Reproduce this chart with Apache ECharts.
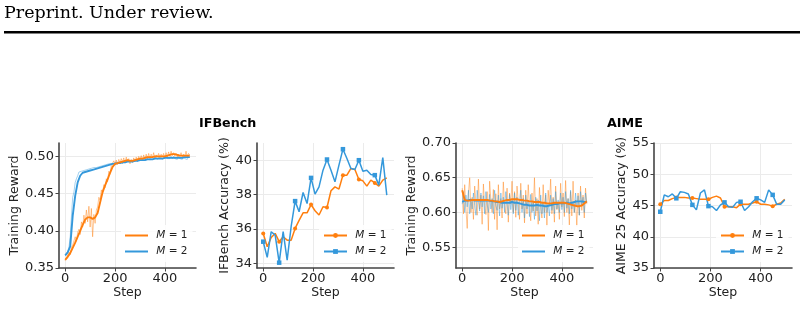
<!DOCTYPE html>
<html>
<head>
<meta charset="utf-8">
<script src="https://cdn.jsdelivr.net/npm/echarts@6.0.0/dist/echarts.min.js"></script>
<style>
  html, body { margin: 0; padding: 0; background: #fff; }
  #chart { width: 804px; height: 309px; }
</style>
</head>
<body>
<div id="chart"></div>
<script>
// ---- data ----
const stepTicks = [0, 200, 400]
const ifRewardTicks = [0.35, 0.40, 0.45, 0.50]
const ifAccTicks = [34, 36, 38, 40]
const aimeRewardTicks = [0.55, 0.60, 0.65, 0.70]
const aimeAccTicks = [35, 40, 45, 50, 55]

// training logs every 5 steps
const rawSteps = [
  0, 5, 10, 15, 20, 25, 30, 35, 40, 45,
  50, 55, 60, 65, 70, 75, 80, 85, 90, 95,
  100, 105, 110, 115, 120, 125, 130, 135, 140, 145,
  150, 155, 160, 165, 170, 175, 180, 185, 190, 195,
  200, 205, 210, 215, 220, 225, 230, 235, 240, 245,
  250, 255, 260, 265, 270, 275, 280, 285, 290, 295,
  300, 305, 310, 315, 320, 325, 330, 335, 340, 345,
  350, 355, 360, 365, 370, 375, 380, 385, 390, 395,
  400, 405, 410, 415, 420, 425, 430, 435, 440, 445,
  450, 455, 460, 465, 470, 475, 480, 485, 490, 495,
  500
]
// smoothed curves every 10 steps
const smoothSteps = [
  0, 10, 20, 30, 40, 50, 60, 70, 80, 90,
  100, 110, 120, 130, 140, 150, 160, 170, 180, 190,
  200, 210, 220, 230, 240, 250, 260, 270, 280, 290,
  300, 310, 320, 330, 340, 350, 360, 370, 380, 390,
  400, 410, 420, 430, 440, 450, 460, 470, 480, 490,
  500
]
// evaluations every 16 steps
const evalSteps = [
  0, 16, 32, 48, 64, 80, 96, 112,
  128, 144, 160, 176, 192, 208, 224, 240,
  256, 272, 288, 304, 320, 336, 352, 368,
  384, 400, 416, 432, 448, 464, 480, 496
]

// IFBench training reward
const ifRawM1 = [
  0.360, 0.364, 0.366, 0.371, 0.368, 0.378, 0.381, 0.379, 0.392, 0.386,
  0.398, 0.402, 0.395, 0.412, 0.405, 0.421, 0.410, 0.428, 0.412, 0.433,
  0.405, 0.430, 0.392, 0.422, 0.410, 0.428, 0.432, 0.445, 0.441, 0.455,
  0.450, 0.462, 0.458, 0.470, 0.466, 0.480, 0.476, 0.488, 0.486, 0.494,
  0.490, 0.495, 0.489, 0.496, 0.491, 0.497, 0.492, 0.498, 0.491, 0.499,
  0.493, 0.497, 0.490, 0.496, 0.492, 0.498, 0.493, 0.499, 0.494, 0.500,
  0.495, 0.501, 0.495, 0.502, 0.496, 0.503, 0.497, 0.504, 0.497, 0.503,
  0.498, 0.505, 0.497, 0.502, 0.499, 0.504, 0.498, 0.503, 0.499, 0.504,
  0.498, 0.505, 0.499, 0.506, 0.500, 0.507, 0.501, 0.505, 0.500, 0.504,
  0.499, 0.503, 0.500, 0.505, 0.499, 0.503, 0.500, 0.507, 0.499, 0.504,
  0.502
]
const ifRawM2 = [
  0.366, 0.369, 0.372, 0.378, 0.392, 0.420, 0.445, 0.452, 0.465, 0.470,
  0.474, 0.479, 0.477, 0.480, 0.478, 0.481, 0.479, 0.482, 0.480, 0.483,
  0.481, 0.484, 0.482, 0.485, 0.483, 0.485, 0.484, 0.486, 0.484, 0.487,
  0.485, 0.488, 0.486, 0.489, 0.487, 0.490, 0.488, 0.490, 0.489, 0.491,
  0.489, 0.492, 0.490, 0.492, 0.491, 0.493, 0.490, 0.494, 0.491, 0.494,
  0.492, 0.494, 0.492, 0.495, 0.492, 0.495, 0.493, 0.496, 0.493, 0.496,
  0.494, 0.497, 0.494, 0.497, 0.495, 0.497, 0.495, 0.498, 0.495, 0.498,
  0.496, 0.498, 0.496, 0.499, 0.496, 0.499, 0.497, 0.499, 0.496, 0.499,
  0.497, 0.500, 0.497, 0.499, 0.497, 0.500, 0.497, 0.500, 0.497, 0.499,
  0.496, 0.500, 0.497, 0.499, 0.496, 0.500, 0.497, 0.499, 0.496, 0.500,
  0.498
]
const ifSmoothM1 = [
  0.361, 0.365, 0.370, 0.377, 0.384, 0.392, 0.400, 0.408, 0.415, 0.418,
  0.418, 0.416, 0.418, 0.424, 0.438, 0.452, 0.461, 0.469, 0.478, 0.486,
  0.490, 0.491, 0.492, 0.493, 0.494, 0.495, 0.494, 0.494, 0.495, 0.496,
  0.497, 0.497, 0.498, 0.499, 0.499, 0.499, 0.500, 0.500, 0.500, 0.500,
  0.500, 0.501, 0.502, 0.503, 0.503, 0.502, 0.501, 0.501, 0.501, 0.501,
  0.501
]
const ifSmoothM2 = [
  0.367, 0.371, 0.379, 0.420, 0.447, 0.465, 0.474, 0.478, 0.479, 0.480,
  0.481, 0.482, 0.483, 0.484, 0.485, 0.486, 0.487, 0.488, 0.489, 0.490,
  0.490, 0.491, 0.491, 0.492, 0.492, 0.493, 0.493, 0.493, 0.494, 0.494,
  0.495, 0.495, 0.495, 0.496, 0.496, 0.496, 0.497, 0.497, 0.497, 0.497,
  0.498, 0.498, 0.498, 0.498, 0.498, 0.498, 0.498, 0.498, 0.499, 0.499,
  0.499
]

// IFBench accuracy (%)
const ifAccM1 = [
  35.74, 34.97, 35.50, 35.74, 35.26, 35.55, 35.35, 35.35,
  36.03, 36.50, 36.94, 36.94, 37.42, 37.06, 36.81, 37.29,
  37.25, 38.22, 38.45, 38.32, 39.13, 39.13, 39.52, 39.46,
  38.88, 38.80, 38.49, 38.84, 38.68, 38.49, 38.84, 38.97
]
const ifAccM2 = [
  35.26, 34.35, 35.84, 35.64, 34.04, 35.84, 34.19, 36.13,
  37.62, 37.00, 38.12, 37.48, 38.97, 38.03, 38.45, 39.42,
  40.04, 39.42, 38.74, 39.71, 40.64, 40.10, 39.52, 39.46,
  40.00, 39.36, 39.42, 39.17, 39.13, 38.55, 40.15, 37.97
]

// AIME training reward
const aimeRawM1 = [
  0.635, 0.598, 0.640, 0.605, 0.577, 0.628, 0.650, 0.600, 0.622, 0.590,
  0.638, 0.612, 0.596, 0.648, 0.605, 0.625, 0.583, 0.641, 0.610, 0.597,
  0.630, 0.574, 0.645, 0.618, 0.600, 0.633, 0.590, 0.627, 0.575, 0.640,
  0.605, 0.620, 0.592, 0.644, 0.610, 0.598, 0.635, 0.586, 0.628, 0.612,
  0.645, 0.600, 0.630, 0.593, 0.638, 0.615, 0.590, 0.642, 0.605, 0.625,
  0.585, 0.632, 0.598, 0.640, 0.610, 0.588, 0.628, 0.602, 0.650, 0.595,
  0.620, 0.583, 0.636, 0.605, 0.592, 0.640, 0.600, 0.625, 0.580, 0.632,
  0.610, 0.648, 0.598, 0.622, 0.586, 0.638, 0.604, 0.615, 0.590, 0.642,
  0.608, 0.628, 0.594, 0.646, 0.600, 0.620, 0.582, 0.630, 0.595, 0.645,
  0.600, 0.618, 0.580, 0.628, 0.596, 0.638, 0.603, 0.625, 0.592, 0.635,
  0.612
]
const aimeRawM2 = [
  0.612, 0.630, 0.600, 0.625, 0.608, 0.632, 0.598, 0.620, 0.605, 0.628,
  0.610, 0.596, 0.632, 0.615, 0.602, 0.628, 0.608, 0.624, 0.598, 0.630,
  0.612, 0.600, 0.626, 0.605, 0.620, 0.598, 0.632, 0.610, 0.603, 0.625,
  0.595, 0.628, 0.606, 0.622, 0.600, 0.630, 0.612, 0.596, 0.626, 0.604,
  0.618, 0.598, 0.628, 0.603, 0.622, 0.596, 0.615, 0.632, 0.600, 0.620,
  0.592, 0.625, 0.605, 0.618, 0.594, 0.626, 0.600, 0.616, 0.590, 0.622,
  0.602, 0.618, 0.588, 0.625, 0.598, 0.615, 0.592, 0.628, 0.600, 0.612,
  0.595, 0.625, 0.603, 0.620, 0.598, 0.630, 0.605, 0.618, 0.600, 0.628,
  0.604, 0.622, 0.600, 0.630, 0.606, 0.620, 0.598, 0.632, 0.605, 0.615,
  0.600, 0.628, 0.608, 0.624, 0.596, 0.630, 0.610, 0.622, 0.600, 0.628,
  0.614
]
const aimeSmoothM1 = [
  0.632, 0.618, 0.617, 0.617, 0.618, 0.618, 0.618, 0.618, 0.618, 0.618,
  0.618, 0.617, 0.617, 0.616, 0.616, 0.615, 0.616, 0.617, 0.618, 0.618,
  0.619, 0.619, 0.619, 0.618, 0.618, 0.617, 0.617, 0.616, 0.616, 0.615,
  0.615, 0.615, 0.614, 0.614, 0.613, 0.613, 0.613, 0.614, 0.614, 0.614,
  0.614, 0.614, 0.613, 0.612, 0.611, 0.610, 0.609, 0.609, 0.610, 0.613,
  0.616
]
const aimeSmoothM2 = [
  0.615, 0.617, 0.617, 0.618, 0.618, 0.617, 0.617, 0.617, 0.617, 0.617,
  0.617, 0.617, 0.616, 0.616, 0.615, 0.615, 0.614, 0.614, 0.614, 0.614,
  0.615, 0.614, 0.614, 0.613, 0.612, 0.611, 0.611, 0.610, 0.610, 0.610,
  0.611, 0.610, 0.610, 0.609, 0.609, 0.610, 0.611, 0.612, 0.612, 0.613,
  0.613, 0.613, 0.614, 0.613, 0.614, 0.615, 0.616, 0.616, 0.616, 0.615,
  0.615
]

// AIME 25 accuracy (%)
const aimeAccM1 = [
  45.2, 45.8, 45.8, 46.1, 46.3, 46.3, 46.3, 46.2,
  46.2, 46.1, 46.0, 46.0, 46.0, 46.3, 46.5, 46.2,
  44.8, 44.8, 44.8, 44.65, 45.2, 45.2, 45.2, 45.4,
  45.6, 45.2, 45.2, 45.1, 44.9, 45.2, 45.4, 46.0
]
const aimeAccM2 = [
  44.0, 46.7, 46.4, 46.85, 46.15, 47.2, 47.1, 46.85,
  45.1, 44.3, 47.0, 47.5, 44.9, 44.8, 44.2, 45.1,
  45.5, 44.8, 44.7, 45.5, 45.6, 44.2, 44.8, 45.6,
  46.15, 45.9, 45.5, 47.5, 46.7, 45.2, 45.2, 45.9
]

// ---- chart ----
const ORANGE = '#ff7f0e'
const BLUE = '#3498db'
const INK = '#222'
const SPINE = '#444'
const FONT = 'DejaVu Sans'

const boxes = [
  { left: 59, top: 143, width: 137, height: 125 },
  { left: 257, top: 143, width: 137, height: 125 },
  { left: 456, top: 143, width: 137, height: 125 },
  { left: 654, top: 143, width: 138, height: 125 }
]

const pairs = (xs, ys) => ys.map((v, k) => [xs[k], v])
const marked = (xs, ys) => ys.map((v, k) => (k % 4 === 0 ? { value: [xs[k], v] } : { value: [xs[k], v], symbol: 'none' }))

const xAxisFor = (i) => ({
  type: 'value', gridIndex: i, min: -25, max: 525,
  name: 'Step', nameLocation: 'middle', nameGap: 18,
  nameTextStyle: { fontSize: 12.5, color: INK, fontFamily: FONT },
  axisLine: { onZero: false, lineStyle: { color: SPINE, width: 1.6 } },
  axisTick: { length: 3.5, customValues: stepTicks, lineStyle: { color: SPINE, width: 1 } },
  axisLabel: { customValues: stepTicks, fontSize: 13, color: INK, margin: 4 },
  splitLine: { show: true, lineStyle: { color: '#ebebeb', width: 1 } }
})

const yAxisFor = (i, name, min, max, ticks, digits, gap) => ({
  type: 'value', gridIndex: i, min, max,
  name, nameLocation: 'middle', nameGap: gap,
  nameTextStyle: { fontSize: 12.5, color: INK, fontFamily: FONT },
  axisLine: { show: true, onZero: false, lineStyle: { color: SPINE, width: 1.6 } },
  axisTick: { show: true, length: 3.5, customValues: ticks, lineStyle: { color: SPINE, width: 1 } },
  axisLabel: { customValues: ticks, fontSize: 13, color: INK, margin: 5, formatter: (v) => v.toFixed(digits) },
  splitLine: { show: true, lineStyle: { color: '#ebebeb', width: 1 } }
})

const rawLine = (i, name, data, color) => ({
  type: 'line', name, xAxisIndex: i, yAxisIndex: i, data,
  symbol: 'none', silent: true, z: 1,
  lineStyle: { color, width: 1, opacity: 0.45 }
})
const smoothLine = (i, name, data, color) => ({
  type: 'line', name, xAxisIndex: i, yAxisIndex: i, data,
  symbol: 'none', z: 3,
  itemStyle: { color },
  lineStyle: { color, width: 1.9 }
})
const evalLine = (i, name, data, color, symbol, size) => ({
  type: 'line', name, xAxisIndex: i, yAxisIndex: i, data,
  symbol, symbolSize: size, showSymbol: true, z: 3,
  itemStyle: { color },
  lineStyle: { color, width: 1.5 }
})

const legendNames = { a1: 'M', a2: 'M', b1: 'M', b2: 'M', c1: 'M', c2: 'M', d1: 'M', d2: 'M' }
const legendFor = (left, names, withMarkers) => ({
  orient: 'vertical', left, top: 225, data: names,
  itemWidth: 23, itemHeight: withMarkers ? 6 : 2, itemGap: 1,
  icon: withMarkers ? undefined : 'rect',
  padding: [3, 5, 3, 4], backgroundColor: 'rgba(255,255,255,0.85)', borderRadius: 3,
  selectedMode: false,
  formatter: (n) => ' {i|' + legendNames[n] + '} = ' + n.slice(1),
  textStyle: {
    fontSize: 10.5, lineHeight: 15, color: INK, fontFamily: FONT,
    rich: { i: { fontStyle: 'italic', fontSize: 10.5, fontFamily: FONT, color: INK } }
  }
})

const chart = echarts.init(document.getElementById('chart'))
chart.setOption({
  animation: false,
  backgroundColor: '#fff',
  textStyle: { fontFamily: FONT },
  grid: boxes,
  xAxis: [0, 1, 2, 3].map(xAxisFor),
  yAxis: [
    yAxisFor(0, 'Training Reward', 0.35, 0.518, ifRewardTicks, 2, 35),
    yAxisFor(1, 'IFBench Accuracy (%)', 33.73, 41.0, ifAccTicks, 0, 20),
    yAxisFor(2, 'Training Reward', 0.52, 0.70, aimeRewardTicks, 2, 35),
    yAxisFor(3, 'AIME 25 Accuracy (%)', 35, 55, aimeAccTicks, 0, 24)
  ],
  legend: [
    legendFor(121, ['a1', 'a2'], false),
    legendFor(319, ['b1', 'b2'], true),
    legendFor(518, ['c1', 'c2'], false),
    legendFor(716, ['d1', 'd2'], true)
  ],
  series: [
    rawLine(0, 'a1raw', pairs(rawSteps, ifRawM1), ORANGE),
    rawLine(0, 'a2raw', pairs(rawSteps, ifRawM2), BLUE),
    smoothLine(0, 'a2', pairs(smoothSteps, ifSmoothM2), BLUE),
    smoothLine(0, 'a1', pairs(smoothSteps, ifSmoothM1), ORANGE),

    evalLine(1, 'b1', marked(evalSteps, ifAccM1), ORANGE, 'circle', 4),
    evalLine(1, 'b2', marked(evalSteps, ifAccM2), BLUE, 'rect', 4.5),

    rawLine(2, 'c1raw', pairs(rawSteps, aimeRawM1), ORANGE),
    rawLine(2, 'c2raw', pairs(rawSteps, aimeRawM2), BLUE),
    smoothLine(2, 'c2', pairs(smoothSteps, aimeSmoothM2), BLUE),
    smoothLine(2, 'c1', pairs(smoothSteps, aimeSmoothM1), ORANGE),

    evalLine(3, 'd1', marked(evalSteps, aimeAccM1), ORANGE, 'circle', 4),
    evalLine(3, 'd2', marked(evalSteps, aimeAccM2), BLUE, 'rect', 4.5)
  ],
  graphic: [
    { type: 'text', left: 4, top: 4, style: { text: 'Preprint. Under review.', font: '17.5px "DejaVu Serif"', fill: '#000' } },
    { type: 'rect', shape: { x: 4, y: 31, width: 796, height: 2.6 }, style: { fill: '#000' } },
    { type: 'text', left: 199, top: 117, style: { text: 'IFBench', font: 'bold 12.7px "DejaVu Sans"', fill: '#000' } },
    { type: 'text', left: 607, top: 117, style: { text: 'AIME', font: 'bold 12.7px "DejaVu Sans"', fill: '#000' } }
  ]
})
</script>
</body>
</html>
